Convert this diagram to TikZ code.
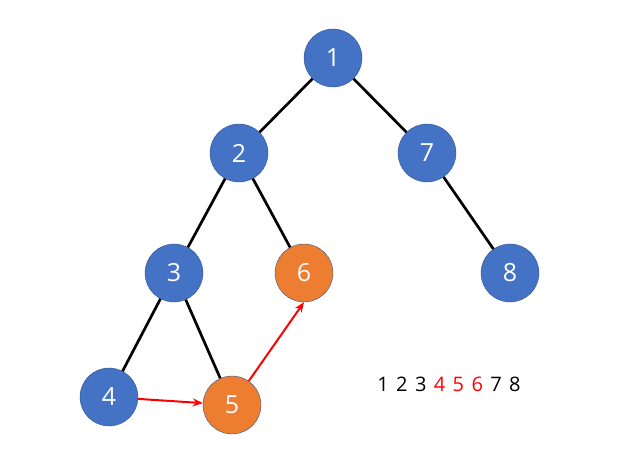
\documentclass[tikz,border=0pt]{standalone}
\usepackage{fontspec}
\setmainfont{Open Sans}
\usepackage{xcolor}
\usetikzlibrary{arrows.meta,positioning}
\definecolor{nodeblue}{HTML}{4472C4}
\definecolor{nodeorange}{HTML}{ED7D31}
\definecolor{rimblue}{HTML}{2F528F}
\tikzset{%
roundnode/.style={circle, draw=rimblue, thin, fill=nodeblue, minimum size=58pt, inner sep=0pt, text=white, font=\fontsize{25}{30}\selectfont},
visited/.style={roundnode, fill=nodeorange},
tr/.style={draw=black, line width=2.7pt},
pt/.style={draw=red, line width=2pt,-{Stealth[length=10pt,width=8pt]}}
}
\begin{document}
\begin{tikzpicture}[x=1pt, y=-1pt, on grid]
		\useasboundingbox (0,0) rectangle (629,473);
		\node[roundnode] (one) at (333,58) {1};
		\node[roundnode] (two) [below left=95pt and 94pt of one] {2};
		\node[roundnode] (seven) [below right=95pt and 94pt of one] {7};
		\node[roundnode] (three) [below left=120pt and 65pt of two] {3};
		\node[visited] (six) [below right=120pt and 65pt of two] {6};
		\node[roundnode] (eight) [below right=120pt and 83pt of seven] {8};
		\node[roundnode] (four) [below left=124pt and 65pt of three] {4};
		\node[visited] (five) [below right=132pt and 58pt of three] {5};
		\node (order) [above right=21pt and 217pt of five, font=\fontsize{20}{24}\selectfont] {\spaceskip=7.4pt 1 2 3 {\color{red}4 5 6} 7 8};
		
		\path[tr] (one) -- (two);
		\path[tr] (one) -- (seven);
		\path[tr] (two) -- (three);
		\path[tr] (two) -- (six);
		\path[tr] (seven) -- (eight);
		\path[tr] (three) -- (four);
		\path[tr] (three) -- (five);
		\path[pt] (four) -- (five);
		\path[pt] (five) -- (six.south);
	\end{tikzpicture}
\end{document}
